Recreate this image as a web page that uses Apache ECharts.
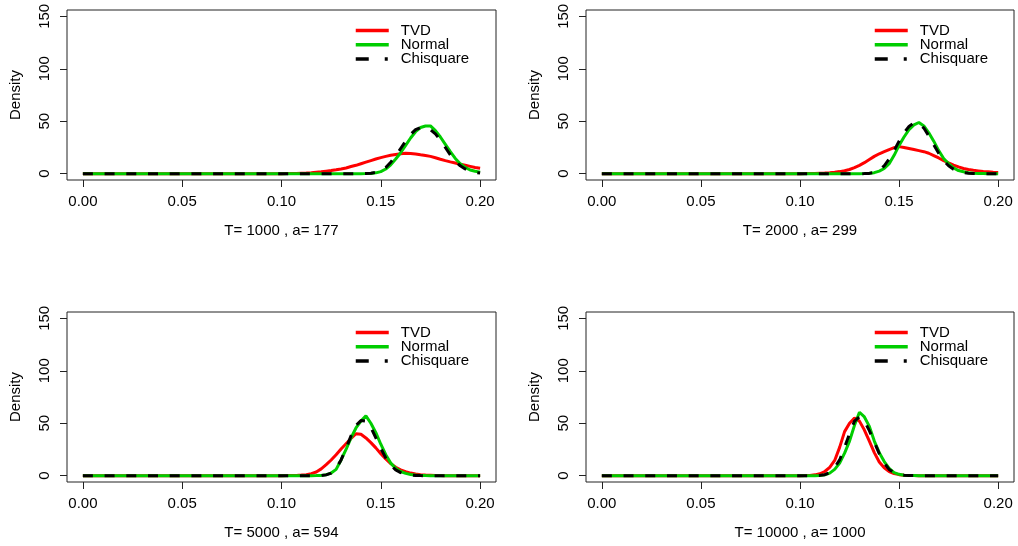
<!DOCTYPE html>
<html>
<head>
<meta charset="utf-8">
<script src="https://cdn.jsdelivr.net/npm/echarts@6/dist/echarts.min.js"></script>
<style>
html,body{margin:0;padding:0;background:#fff;}
#chart{width:1018px;height:546px;}
</style>
</head>
<body>
<div id="chart"></div>
<script>
// shared x grid (evaluation points of the density curves)
const xGrid = [0, 0.05, 0.1, 0.1025, 0.105, 0.1075, 0.11, 0.1125, 0.115, 0.1175, 0.12, 0.1225, 0.125, 0.1275,
  0.13, 0.1325, 0.135, 0.1375, 0.14, 0.1425, 0.145, 0.1475, 0.15, 0.1525, 0.155, 0.1575, 0.16, 0.1625, 0.165,
  0.1675, 0.17, 0.1725, 0.175, 0.1775, 0.18, 0.1825, 0.185, 0.1875, 0.19, 0.1925, 0.195, 0.1975, 0.2];

const seriesNames = ['TVD', 'Normal', 'Chisquare'];
const panelTitles = ['T= 1000 , a= 177', 'T= 2000 , a= 299', 'T= 5000 , a= 594', 'T= 10000 , a= 1000'];
const xTicks = [0, 0.05, 0.1, 0.15, 0.2];
const yTicks = [0, 50, 100, 150];

// Panel 1: T=1000
const p1TVD = [0, 0, 0, 0.1, 0.2, 0.3, 0.5, 0.7, 1.0, 1.4, 1.8, 2.4, 3.0, 3.7, 4.5, 5.5, 6.8, 8.0, 9.5, 11.0, 12.5,
  14.0, 15.3, 16.5, 17.5, 18.3, 19.0, 19.4, 19.3, 18.8, 18.0, 17.3, 16.5, 15.2, 13.8, 12.5, 11.3, 10.2, 9.0, 8.0, 7.0, 6.0, 5.2];
const p1Normal = [0, 0, 0, 0, 0, 0, 0, 0, 0, 0, 0, 0, 0, 0, 0, 0, 0, 0, 0, 0.1, 0.3, 0.8, 2.0, 4.5, 8.5, 14, 20, 27, 34,
  40, 44, 45.5, 45.5, 41, 35, 28, 21, 14.5, 9.5, 6, 3.5, 2.3, 1.5];
const p1Chisq = [0, 0, 0, 0, 0, 0, 0, 0, 0, 0, 0, 0, 0, 0, 0, 0, 0, 0, 0, 0.1, 0.4, 1.2, 2.8, 6, 11, 17, 24, 31, 37.5,
  42, 44, 44, 42, 38, 32, 25, 18, 12, 7.5, 4.5, 2.5, 1.3, 0.6];

// Panel 2: T=2000
const p2TVD = [0, 0, 0, 0.1, 0.2, 0.3, 0.5, 0.7, 1.0, 1.4, 2.0, 2.8, 4.0, 5.8, 8.0, 10.5, 13.5, 16.5, 19.0, 21.0, 23.0,
  24.8, 25.8, 25.0, 24.0, 23.0, 22.0, 21.0, 19.5, 17.3, 15.0, 12.5, 10.3, 8.2, 6.5, 5.0, 4.0, 3.2, 2.7, 2.2, 1.8, 1.4, 1.1];
const p2Normal = [0, 0, 0, 0, 0, 0, 0, 0, 0, 0, 0, 0, 0, 0, 0, 0.1, 0.4, 1.0, 2.5, 5.0, 9.5, 17.5, 27, 35, 42, 46.5,
  48.8, 45.5, 39, 31, 22, 14.5, 9.5, 5.5, 3.0, 1.8, 1.0, 0.5, 0.2, 0.1, 0, 0, 0];
const p2Chisq = [0, 0, 0, 0, 0, 0, 0, 0, 0, 0, 0, 0, 0, 0, 0, 0.1, 0.3, 1.2, 3.5, 7.5, 14, 22, 31, 39, 45, 48.5,
  48, 43.5, 36, 27.5, 19.5, 12.5, 7.5, 4.2, 2.2, 1.1, 0.5, 0.2, 0.1, 0, 0, 0, 0];

// Panel 3: T=5000
const p3TVD = [0, 0, 0, 0.1, 0.2, 0.3, 0.6, 1.0, 2.0, 3.5, 6.5, 10.5, 15, 20, 25.5, 30.5, 35.5, 40, 39.5, 36, 31.5,
  26.5, 21, 16, 11.5, 8.0, 5.5, 3.8, 2.5, 1.6, 1.0, 0.6, 0.4, 0.2, 0.1, 0, 0, 0, 0, 0, 0, 0, 0];
const p3Normal = [0, 0, 0, 0, 0, 0, 0, 0, 0, 0.1, 0.3, 1.0, 2.5, 6, 15, 25, 36, 45.5, 52, 57, 50, 41, 30, 20, 12, 7,
  4, 2.2, 1.2, 0.6, 0.3, 0.1, 0, 0, 0, 0, 0, 0, 0, 0, 0, 0, 0];
const p3Chisq = [0, 0, 0, 0, 0, 0, 0, 0, 0, 0, 0.2, 0.8, 2.5, 7, 15, 26, 38, 48, 52.5, 52, 46, 36, 26, 17, 10, 5.5,
  3, 1.5, 0.7, 0.3, 0.1, 0, 0, 0, 0, 0, 0, 0, 0, 0, 0, 0, 0];

// Panel 4: T=10000
const p4TVD = [0, 0, 0, 0.1, 0.3, 0.8, 1.8, 4, 8, 14.5, 27, 42, 50, 55, 52, 43.5, 33, 22, 13, 7.5, 4, 2, 1, 0.5, 0.2,
  0.1, 0, 0, 0, 0, 0, 0, 0, 0, 0, 0, 0, 0, 0, 0, 0, 0, 0];
const p4Normal = [0, 0, 0, 0, 0, 0, 0.2, 0.8, 2.5, 6, 12, 21.5, 33, 48, 60.5, 56, 47, 33, 22, 13.5, 7, 3, 1.3, 0.5,
  0.2, 0.1, 0, 0, 0, 0, 0, 0, 0, 0, 0, 0, 0, 0, 0, 0, 0, 0, 0];
const p4Chisq = [0, 0, 0, 0, 0, 0, 0.3, 1, 3, 8, 15, 27, 40, 52, 56, 52, 43, 32, 21, 12, 6, 2.8, 1.2, 0.5, 0.2, 0.1,
  0, 0, 0, 0, 0, 0, 0, 0, 0, 0, 0, 0, 0, 0, 0, 0, 0];

const panelData = [
  [p1TVD, p1Normal, p1Chisq],
  [p2TVD, p2Normal, p2Chisq],
  [p3TVD, p3Normal, p3Chisq],
  [p4TVD, p4Normal, p4Chisq]
];

const FONT = '"Liberation Sans", Arial, Helvetica, sans-serif';
const colors = ['#ff0000', '#00cd00', '#000000'];
const lineTypes = ['solid', 'solid', [10, 11.7]];
const legendTypes = ['solid', 'solid', [13, 16, 3, 30]];

const gridPos = [
  {left: 67, top: 10, width: 429, height: 170},
  {left: 586, top: 10, width: 428, height: 170},
  {left: 67, top: 312, width: 429, height: 170},
  {left: 586, top: 312, width: 428, height: 170}
];
const legendPos = [
  {left: 354, top: 23},
  {left: 873, top: 23},
  {left: 354, top: 325},
  {left: 873, top: 325}
];

const grids = [], xAxes = [], yAxes = [], series = [], legends = [];
for (let p = 0; p < 4; p++) {
  grids.push(Object.assign({show: true, borderColor: '#222', borderWidth: 1, backgroundColor: 'transparent'}, gridPos[p]));
  xAxes.push({
    type: 'value', gridIndex: p, min: -0.008, max: 0.208,
    name: panelTitles[p], nameLocation: 'middle', nameGap: 43,
    nameTextStyle: {fontFamily: FONT, fontSize: 15, color: '#000'},
    axisLine: {show: false, onZero: false},
    splitLine: {show: false},
    axisTick: {show: true, inside: false, length: 7, customValues: xTicks, lineStyle: {color: '#222'}},
    axisLabel: {show: true, customValues: xTicks, margin: 14, fontFamily: FONT, fontSize: 15, color: '#000',
      formatter: v => v.toFixed(2)}
  });
  yAxes.push({
    type: 'value', gridIndex: p, min: -6, max: 156,
    name: 'Density', nameLocation: 'middle', nameGap: 44, nameRotate: 90,
    nameTextStyle: {fontFamily: FONT, fontSize: 15, color: '#000'},
    axisLine: {show: false, onZero: false},
    splitLine: {show: false},
    axisTick: {show: true, inside: false, length: 7, customValues: yTicks, lineStyle: {color: '#222'}},
    axisLabel: {show: true, customValues: yTicks, margin: 15, rotate: 90, fontFamily: FONT, fontSize: 15, color: '#000',
      formatter: v => String(v)}
  });
  for (let s = 0; s < 3; s++) {
    series.push({
      type: 'line', name: seriesNames[s], xAxisIndex: p, yAxisIndex: p,
      data: xGrid.map((x, i) => [x, panelData[p][s][i]]),
      showSymbol: false, symbol: 'none', smooth: false, animation: false,
      lineStyle: {color: colors[s], width: 3, type: lineTypes[s]},
      itemStyle: {color: colors[s]},
      z: 2 + s
    });
  }
  legends.push({
    orient: 'vertical', left: legendPos[p].left, top: legendPos[p].top, padding: 0,
    data: seriesNames.map((n, s) => ({name: n, itemStyle: {opacity: 0}, lineStyle: {color: colors[s], width: 3.5, type: legendTypes[s], opacity: 1}})),
    itemWidth: 33, itemHeight: 14, itemGap: -0.7, selectedMode: false,
    textStyle: {fontFamily: FONT, fontSize: 15, color: '#000', lineHeight: 14, padding: [0, 0, 0, 7]}
  });
}

const chart = echarts.init(document.getElementById('chart'), null, {renderer: 'canvas'});
chart.setOption({
  backgroundColor: '#fff',
  animation: false,
  grid: grids, xAxis: xAxes, yAxis: yAxes, series: series, legend: legends
});
</script>
</body>
</html>
